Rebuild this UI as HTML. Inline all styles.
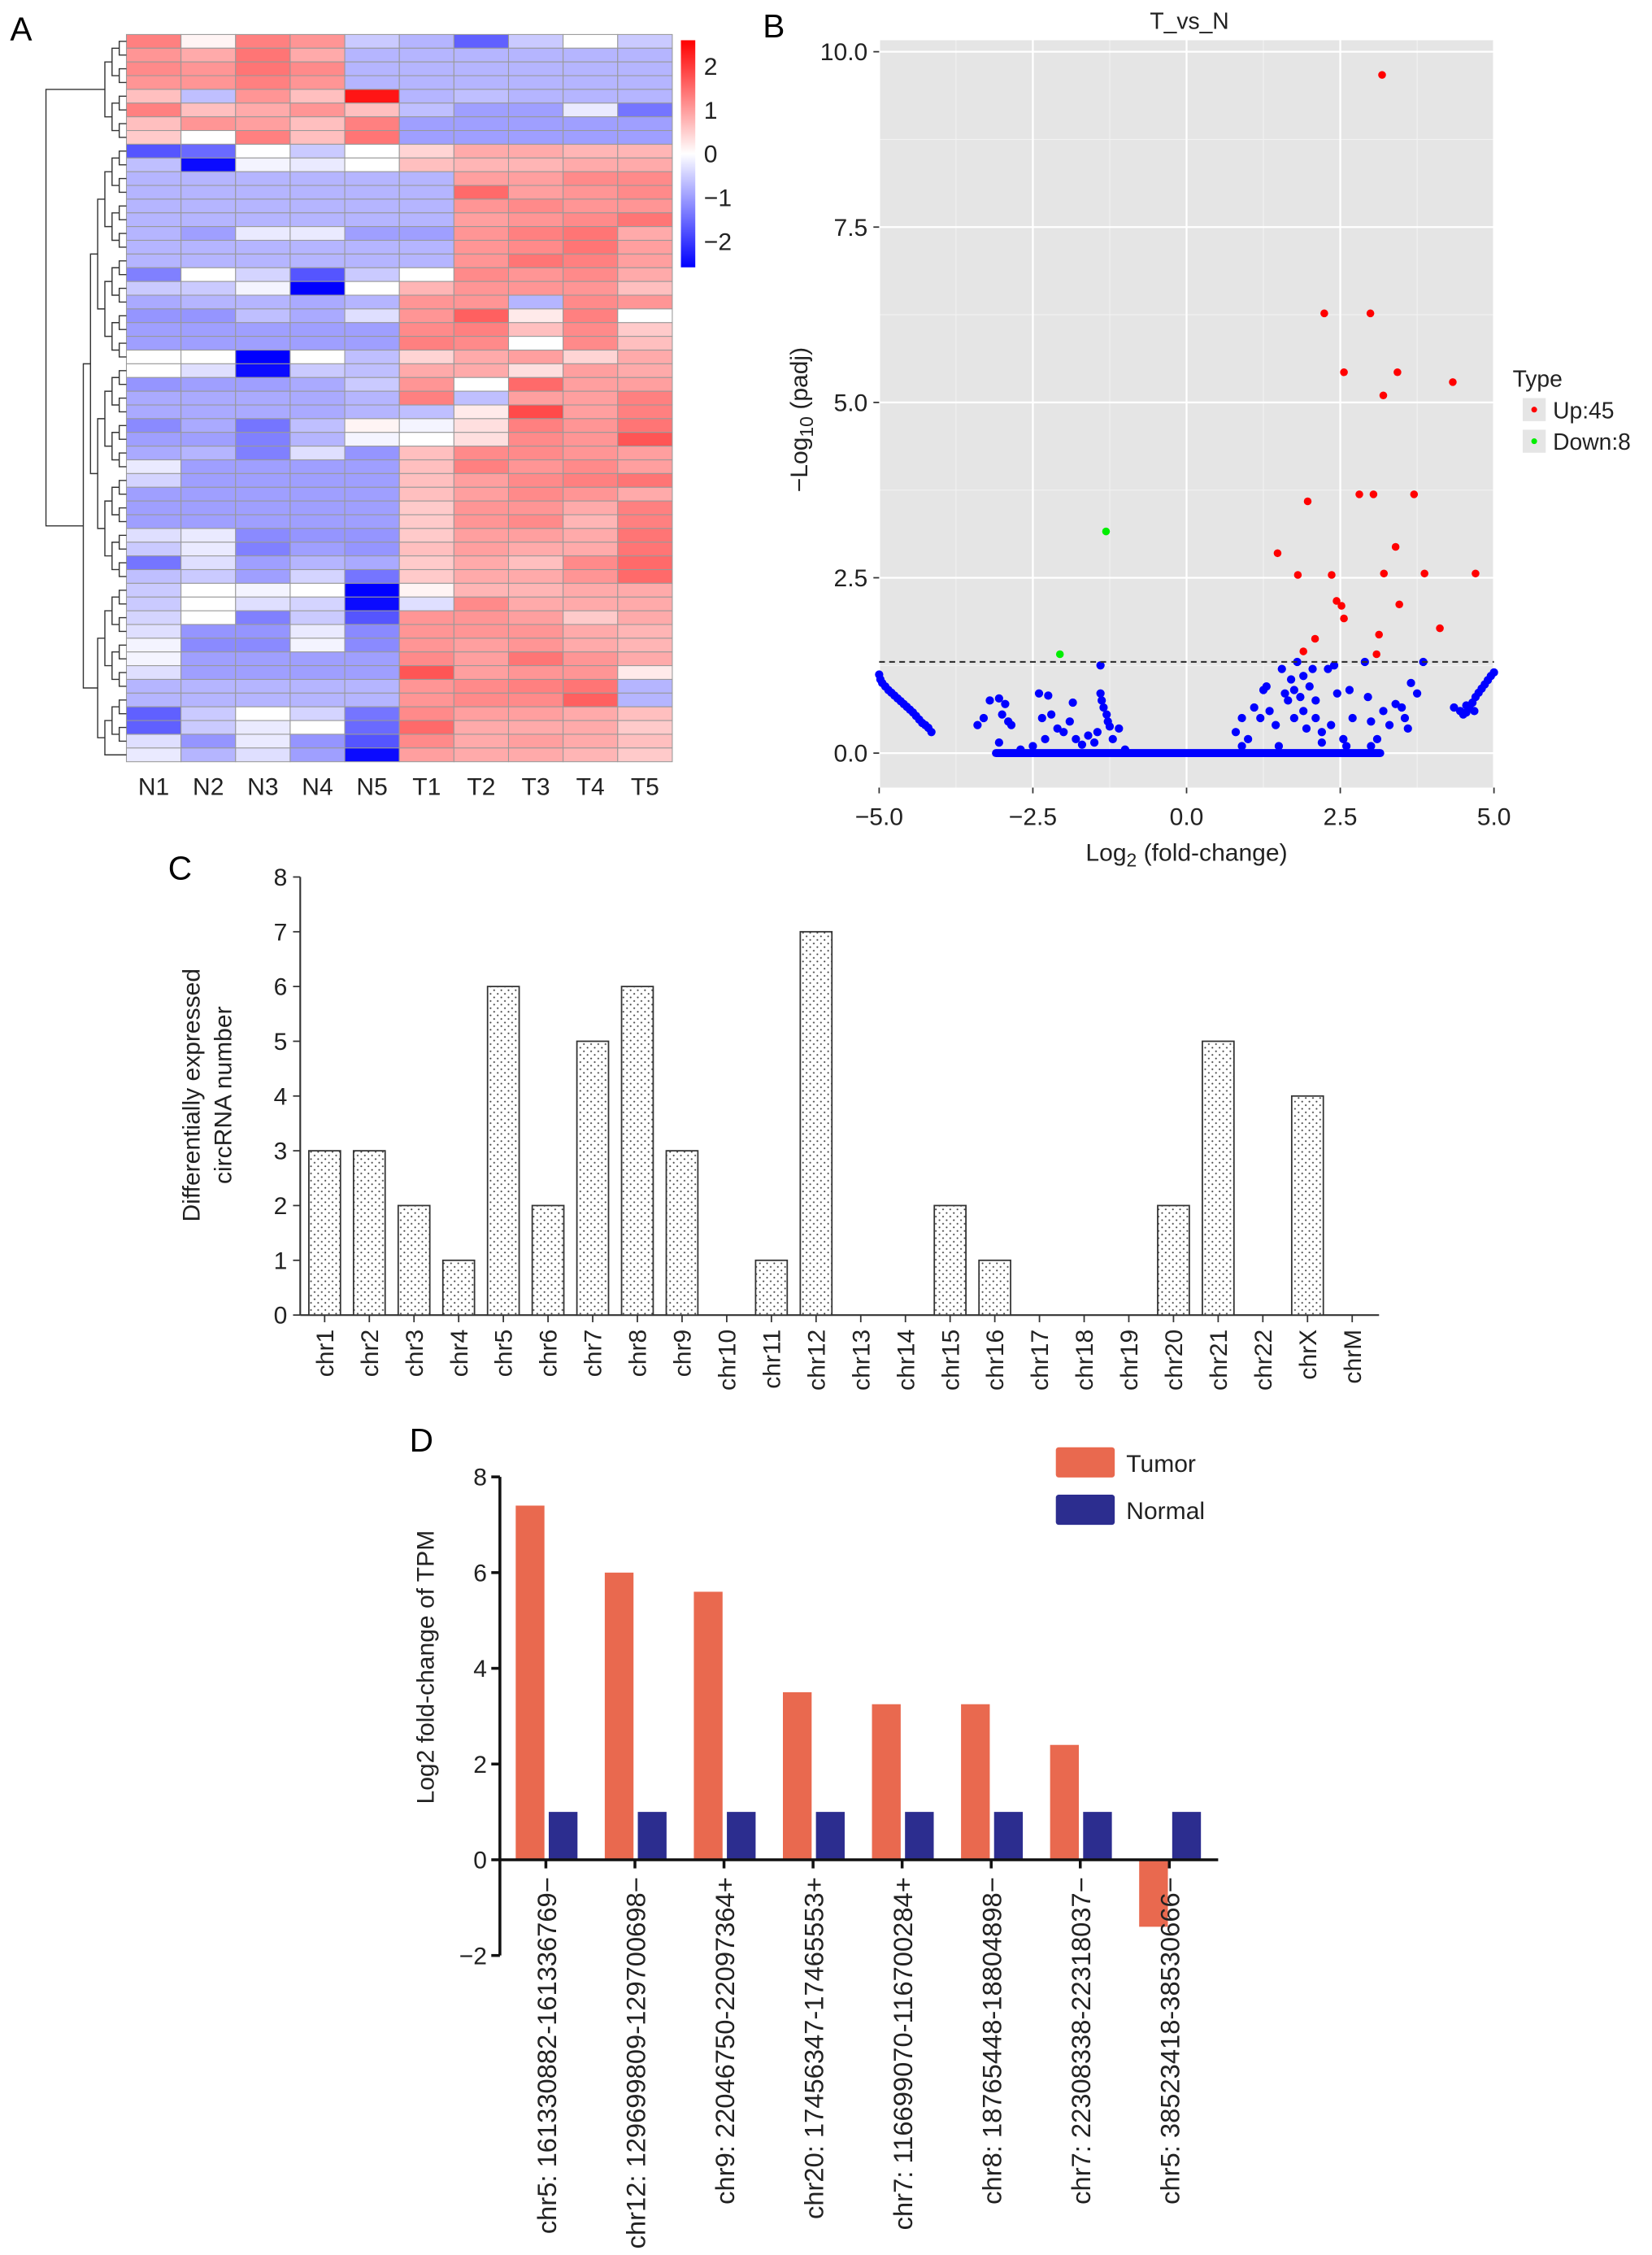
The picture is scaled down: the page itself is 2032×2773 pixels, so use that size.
<!DOCTYPE html>
<html><head><meta charset="utf-8"><style>
html,body{margin:0;padding:0;background:#fff;}
svg{display:block;font-family:"Liberation Sans",Arial,sans-serif;}
</style></head><body>
<svg id="fig" width="2032" height="2773" viewBox="0 0 1150 1569" preserveAspectRatio="none" xmlns="http://www.w3.org/2000/svg">
<defs>
<pattern id="dots" width="5" height="5" patternUnits="userSpaceOnUse"><rect width="5" height="5" fill="#fff"/><circle cx="1.5" cy="1.5" r="0.6" fill="#444"/><circle cx="4" cy="4" r="0.6" fill="#444"/></pattern>
<linearGradient id="cbar" x1="0" y1="0" x2="0" y2="1"><stop offset="0" stop-color="#ff0000"/><stop offset="0.5" stop-color="#ffffff"/><stop offset="1" stop-color="#0000ff"/></linearGradient>
</defs>
<g id="pA"></g>
<g id="pB"></g>
<g id="pC"></g>
<g id="pD"></g>
</svg>
<script>
// ---------- Panel A data ----------
const heatCols = ["N1","N2","N3","N4","N5","T1","T2","T3","T4","T5"];
const heatRows = [
[1.2,0.1,1.2,1.0,-0.5,-0.7,-1.5,-0.5,0.0,-0.5],
[1.0,0.8,1.3,0.8,-0.7,-0.7,-0.7,-0.7,-0.7,-0.7],
[1.1,1.0,1.3,1.1,-0.7,-0.7,-0.7,-0.7,-0.7,-0.7],
[1.0,1.0,1.2,1.0,-0.7,-0.7,-0.7,-0.7,-0.7,-0.7],
[0.6,-0.6,1.0,0.6,2.2,-0.7,-0.6,-0.7,-0.7,-0.7],
[1.2,0.6,0.8,1.0,0.6,-0.6,-0.9,-0.9,-0.2,-1.3],
[0.6,1.0,0.9,0.6,1.2,-0.9,-0.9,-0.9,-0.9,-0.9],
[0.5,0.0,1.2,0.6,1.3,-0.9,-0.9,-0.9,-0.9,-0.9],
[-1.6,-1.4,0.0,-0.5,0.0,0.4,0.8,0.8,0.7,0.7],
[-0.6,-2.3,-0.1,-0.2,0.0,0.6,0.7,0.7,0.8,0.8],
[-0.7,-0.7,-0.7,-0.7,-0.7,-0.7,0.9,0.9,1.1,1.1],
[-0.7,-0.7,-0.7,-0.7,-0.7,-0.7,1.4,0.9,1.0,1.1],
[-0.7,-0.7,-0.7,-0.7,-0.7,-0.7,1.0,1.1,1.0,1.0],
[-0.7,-0.7,-0.7,-0.7,-0.7,-0.7,0.9,1.0,1.1,1.3],
[-0.7,-0.9,-0.2,-0.2,-0.9,-0.9,1.0,1.2,1.3,0.8],
[-0.7,-0.7,-0.7,-0.7,-0.7,-0.7,1.0,1.1,1.3,0.9],
[-0.7,-0.7,-0.7,-0.7,-0.7,-0.7,1.0,1.3,1.2,0.9],
[-1.2,0.0,-0.4,-1.6,-0.5,0.0,1.1,1.0,1.1,0.8],
[-0.5,-0.5,-0.1,-2.4,0.0,0.7,1.0,1.0,1.0,0.6],
[-0.8,-0.7,-0.7,-0.8,-0.7,1.0,1.0,-0.7,1.1,1.0],
[-1.0,-1.0,-0.6,-0.8,-0.3,1.0,1.5,0.2,1.2,0.0],
[-0.9,-0.9,-0.9,-0.9,-0.9,1.1,1.2,0.6,1.1,0.5],
[-0.9,-0.9,-0.9,-0.9,-0.9,1.2,1.1,0.0,1.1,0.6],
[0.0,0.0,-2.5,0.0,-0.6,0.4,0.8,0.9,0.4,0.8],
[0.0,-0.3,-2.3,-0.5,-0.6,0.8,0.8,0.3,0.9,0.8],
[-1.0,-0.9,-0.9,-0.8,-0.5,1.0,0.0,1.4,0.9,0.9],
[-0.8,-0.8,-0.8,-0.8,-0.7,1.2,-0.6,0.9,0.9,1.2],
[-0.8,-0.8,-0.8,-0.8,-0.7,-0.6,0.2,1.7,0.9,1.2],
[-1.1,-0.8,-1.3,-0.6,0.1,-0.1,0.3,1.2,1.0,1.3],
[-0.9,-0.9,-1.2,-0.7,-0.1,0.0,0.3,1.1,1.0,1.6],
[-0.8,-0.7,-1.2,-0.3,-1.0,0.6,1.1,1.1,1.0,0.9],
[-0.2,-0.9,-0.9,-0.9,-0.9,0.6,1.2,1.0,1.1,0.9],
[-0.4,-0.9,-0.9,-0.9,-0.9,0.6,0.9,1.1,1.2,1.3],
[-0.9,-0.9,-0.9,-0.9,-0.9,0.6,0.9,1.1,1.0,0.8],
[-0.9,-0.9,-0.9,-0.9,-0.9,0.5,1.0,1.0,0.8,1.2],
[-0.9,-0.9,-0.9,-0.9,-0.9,0.5,1.0,1.1,0.7,1.2],
[-0.3,-0.2,-1.1,-1.0,-1.0,0.5,0.9,0.9,0.8,1.3],
[-0.5,-0.2,-1.2,-0.9,-1.0,0.6,0.9,0.8,0.8,1.3],
[-1.3,-0.3,-0.9,-0.7,-0.8,0.5,0.8,0.6,1.1,1.4],
[-0.6,-0.5,-0.9,-0.4,-1.3,0.5,0.8,0.8,1.0,1.4],
[-0.5,0.0,-0.1,0.0,-2.5,0.1,0.7,0.7,0.8,0.8],
[-0.5,0.0,-0.3,-0.4,-2.3,-0.3,1.1,0.8,0.8,0.8],
[-0.4,0.0,-1.2,-0.5,-1.6,1.0,1.0,0.9,0.5,0.8],
[-0.3,-1.0,-1.0,-0.2,-1.1,1.0,1.0,1.0,0.8,0.7],
[-0.1,-1.1,-1.1,-0.1,-1.1,1.0,0.9,1.0,0.8,0.7],
[-0.1,-0.9,-0.9,-0.9,-0.9,1.1,0.9,1.3,1.0,0.8],
[-0.3,-0.9,-0.9,-0.9,-0.9,1.6,0.9,1.0,1.0,0.2],
[-0.7,-0.7,-0.7,-0.7,-0.7,1.0,1.1,1.2,1.3,-0.7],
[-0.7,-0.7,-0.7,-0.7,-0.7,1.0,1.1,1.1,1.5,-0.7],
[-1.5,-0.5,0.0,-0.4,-1.3,1.1,0.9,0.9,0.8,0.6],
[-1.5,-0.5,-0.2,0.0,-1.4,1.4,0.8,0.8,0.8,0.5],
[-0.3,-1.0,-0.2,-1.0,-1.6,1.1,0.8,0.9,0.8,0.6],
[-0.2,-0.7,-0.3,-0.9,-2.3,0.9,0.8,0.8,0.7,0.5]
];
const cbarTicks = [2,1,0,-1,-2];

// ---------- Panel B data ----------
const volXTicks = [-5,-2.5,0,2.5,5];
const volXTickLabels = ["\u22125.0","\u22122.5","0.0","2.5","5.0"];
const volYTicks = [0,2.5,5,7.5,10];
const volYTickLabels = ["0.0","2.5","5.0","7.5","10.0"];
const volThreshold = 1.3;
const upX = [3.18,2.24,2.99,2.56,3.43,4.33,3.2,1.97,2.81,3.04,3.7,3.4,1.48,1.81,2.36,3.21,3.87,4.7,2.44,2.52,2.56,3.46,4.12,2.09,3.13,1.9,3.09];
const upY = [9.67,6.27,6.27,5.43,5.43,5.29,5.1,3.59,3.69,3.69,3.69,2.94,2.85,2.54,2.54,2.56,2.56,2.56,2.17,2.1,1.92,2.12,1.78,1.63,1.69,1.45,1.41];
const downX = [-1.31,-2.06];
const downY = [3.16,1.41];
const nsX = [-5,-4.98,-4.95,-4.9,-4.85,-4.8,-4.75,-4.7,-4.65,-4.6,-4.55,-4.5,-4.45,-4.4,-4.35,-4.3,-4.25,-4.2,-4.15,
4.35,4.45,4.5,4.55,4.6,4.65,4.7,4.75,4.8,4.85,4.9,4.95,5,4.55,4.68,
-3.4,-3.3,-3.2,-3.05,-2.95,-3.0,-2.9,-2.85,-3.05,-2.4,-2.25,-2.35,-2.2,-2.3,-2.1,-1.85,-1.9,-2.0,-1.8,-1.6,-1.45,-1.4,-1.38,-1.35,-1.3,-1.28,-1.25,-1.4,-1.2,-1.1,-1.5,-1.7,-2.5,-2.7,-1.0,
0.8,0.9,1.0,1.1,1.2,1.25,1.3,1.35,1.45,1.55,1.6,1.65,1.7,1.75,1.75,1.8,1.85,1.9,1.9,1.95,2.0,2.05,2.1,2.1,2.2,2.3,2.35,2.4,2.45,2.55,2.65,2.7,2.9,2.95,3.0,3.1,3.2,3.3,3.4,3.5,3.55,3.6,3.65,3.75,3.85,2.6,1.5,2.2,3.0,0.9];
const nsY = [1.12,1.05,1.0,0.95,0.9,0.86,0.82,0.78,0.74,0.7,0.66,0.62,0.58,0.53,0.48,0.43,0.4,0.36,0.3,
0.65,0.6,0.55,0.58,0.65,0.72,0.8,0.86,0.92,0.98,1.04,1.1,1.15,0.68,0.6,
0.4,0.5,0.75,0.78,0.7,0.55,0.45,0.4,0.15,0.85,0.82,0.5,0.55,0.2,0.35,0.72,0.45,0.3,0.2,0.25,0.3,0.85,0.75,0.65,0.55,0.45,0.38,1.25,0.2,0.35,0.15,0.12,0.1,0.05,0.05,
0.3,0.5,0.2,0.65,0.5,0.9,0.95,0.6,0.4,1.2,0.85,0.75,1.05,0.9,0.5,1.3,0.8,1.1,0.6,0.35,0.95,1.2,0.5,0.75,0.3,1.2,0.4,1.25,0.85,0.2,0.9,0.5,1.3,0.8,0.45,0.2,0.6,0.4,0.7,0.65,0.5,0.35,1.0,0.85,1.3,0.1,0.1,0.15,0.1,0.1];
const nsZeroBand = [-3.1,3.15];

// ---------- Panel C data ----------
const chrCats = ["chr1","chr2","chr3","chr4","chr5","chr6","chr7","chr8","chr9","chr10","chr11","chr12","chr13","chr14","chr15","chr16","chr17","chr18","chr19","chr20","chr21","chr22","chrX","chrM"];
const chrCounts = [3,3,2,1,6,2,5,6,3,0,1,7,0,0,2,1,0,0,0,2,5,0,4,0];
const chrYTicks = [0,1,2,3,4,5,6,7,8];

// ---------- Panel D data ----------
const circCats = ["chr5: 161330882-161336769\u2212","chr12: 129699809-129700698\u2212","chr9: 22046750-22097364+","chr20: 17456347-17465553+","chr7: 116699070-116700284+","chr8: 18765448-18804898\u2212","chr7: 22308338-22318037\u2212","chr5: 38523418-38530666\u2212"];
const tumorVals = [7.4,6.0,5.6,3.5,3.25,3.25,2.4,-1.4];
const normalVals = [1.0,1.0,1.0,1.0,1.0,1.0,1.0,1.0];
const circYTicks = [-2,0,2,4,6,8];
const circYTickLabels = ["\u22122","0","2","4","6","8"];

// ---------- helpers ----------
const NS="http://www.w3.org/2000/svg";
function mk(parent,tag,attrs,text){const e=document.createElementNS(NS,tag);for(const k in attrs)e.setAttribute(k,attrs[k]);if(text!==undefined)e.textContent=text;parent.appendChild(e);return e;}
function heatColor(v){v=Math.max(-2.4,Math.min(2.4,v));const t=Math.abs(v)/2.4;const c=Math.round(255*(1-t));return v>=0?`rgb(255,${c},${c})`:`rgb(${c},${c},255)`;}

// ---------- Panel A ----------
(function(){
const g=document.getElementById('pA');
let t=mk(g,'text',{x:7,y:28,'font-size':23});
t.textContent='A';
const x0=88,x1=468,y0=24,y1=530;
const cw=(x1-x0)/heatCols.length, rh=(y1-y0)/heatRows.length;
heatRows.forEach((row,r)=>row.forEach((v,c)=>{
  const cell=mk(g,'rect',{x:x0+c*cw,y:y0+r*rh,width:cw,height:rh,fill:heatColor(v),stroke:'#999','stroke-width':0.6});
  
  
}));
heatCols.forEach((l,c)=>{
  const e=mk(g,'text',{x:x0+c*cw+cw/2,y:553,'font-size':17,'text-anchor':'middle',fill:'#222'},l);
  
  
});
let nodes=heatRows.map((_,i)=>({y:y0+i*rh+rh/2,x:x0}));
function merge(list,depth){
  if(list.length===1)return list[0];
  const out=[];
  for(let i=0;i<list.length;i+=2){
    if(i+1<list.length){
      const a=list[i],b=list[i+1];const nx=Math.min(a.x,b.x)-5;
      mk(g,'path',{d:`M${a.x},${a.y}H${nx}V${b.y}H${b.x}`,fill:'none',stroke:'#333','stroke-width':0.8});
      out.push({x:nx,y:(a.y+b.y)/2});
    } else out.push(list[i]);
  }
  return merge(out,depth+1);
}
const top=merge(nodes.slice(0,8),0), bot=merge(nodes.slice(8),0);
mk(g,'path',{d:`M${top.x},${top.y}H32V${bot.y}H${bot.x}`,fill:'none',stroke:'#333','stroke-width':0.8});
const cb=mk(g,'rect',{x:474,y:28,width:10,height:158,fill:'url(#cbar)'});

cbarTicks.forEach(v=>{const y=107-v*30.5;
  const e=mk(g,'text',{x:490,y:y+6,'font-size':17,fill:'#222'},v<0?'\u2212'+(-v):String(v));
  });
})();

// ---------- Panel B ----------
(function(){
const g=document.getElementById('pB');
let t=mk(g,'text',{x:531,y:26,'font-size':23},'B');
const px0=612,px1=1040,py0=28,py1=548;
const sx=v=>px0+(v+5)/10*(px1-px0);
const sy=v=>524-v*48.8;
const bg=mk(g,'rect',{x:px0,y:py0,width:px1-px0,height:py1-py0,fill:'#e5e5e5'});

volXTicks.forEach((v,i)=>{ if(i<volXTicks.length-1) mk(g,'line',{x1:sx(v+1.25),x2:sx(v+1.25),y1:py0,y2:py1,stroke:'#f2f2f2','stroke-width':0.6});});
volYTicks.forEach((v,i)=>{ if(i<volYTicks.length-1) mk(g,'line',{x1:px0,x2:px1,y1:sy(v+1.25),y2:sy(v+1.25),stroke:'#f2f2f2','stroke-width':0.6});});
volXTicks.forEach((v,i)=>{mk(g,'line',{x1:sx(v),x2:sx(v),y1:py0,y2:py1,stroke:'#fff','stroke-width':1.3});
  mk(g,'line',{x1:sx(v),x2:sx(v),y1:py1,y2:py1+4,stroke:'#333'});
  const e=mk(g,'text',{x:sx(v),y:574,'font-size':17,'text-anchor':'middle',fill:'#222'},volXTickLabels[i]);
  });
volYTicks.forEach((v,i)=>{mk(g,'line',{x1:px0,x2:px1,y1:sy(v),y2:sy(v),stroke:'#fff','stroke-width':1.3});
  mk(g,'line',{x1:px0-4,x2:px0,y1:sy(v),y2:sy(v),stroke:'#333'});
  const e=mk(g,'text',{x:px0-8,y:sy(v)+6,'font-size':17,'text-anchor':'end',fill:'#222'},volYTickLabels[i]);
  });
const band=mk(g,'rect',{x:sx(nsZeroBand[0])-2.8,y:sy(0)-2.8,width:sx(nsZeroBand[1])-sx(nsZeroBand[0])+5.6,height:5.6,rx:2.8,fill:'#0000ff'});

nsX.forEach((x,i)=>{const c=mk(g,'circle',{cx:sx(x),cy:sy(nsY[i]),r:2.9,fill:'#0000ff'});
  });
upX.forEach((x,i)=>{const c=mk(g,'circle',{cx:sx(x),cy:sy(upY[i]),r:2.7,fill:'#ff0000'});
  });
downX.forEach((x,i)=>{const c=mk(g,'circle',{cx:sx(x),cy:sy(downY[i]),r:2.7,fill:'#00ee00'});
  });
const th=mk(g,'line',{x1:px0,x2:px1,y1:sy(volThreshold),y2:sy(volThreshold),stroke:'#333','stroke-width':1.2,'stroke-dasharray':'4,3'});

let e=mk(g,'text',{x:828,y:20,'font-size':16,'text-anchor':'middle',fill:'#222'},'T_vs_N');
e=mk(g,'text',{x:826,y:599,'font-size':17,'text-anchor':'middle',fill:'#222'});
e.innerHTML='Log<tspan font-size="13" dy="4">2</tspan><tspan dy="-4"> (fold-change)</tspan>';
e=mk(g,'text',{transform:'translate(562,292) rotate(-90)','font-size':17,'text-anchor':'middle',fill:'#222'});
e.innerHTML='\u2212Log<tspan font-size="13" dy="4">10</tspan><tspan dy="-4"> (padj)</tspan>';
e=mk(g,'text',{x:1053,y:269,'font-size':16,fill:'#222'},'Type');
mk(g,'rect',{x:1060,y:277,width:16,height:16,fill:'#e5e5e5'});mk(g,'rect',{x:1060,y:299,width:16,height:16,fill:'#e5e5e5'});
mk(g,'circle',{cx:1068,cy:285,r:2,fill:'#ff0000'});mk(g,'circle',{cx:1068,cy:307,r:2,fill:'#00ee00'});
e=mk(g,'text',{x:1081,y:291,'font-size':16,fill:'#222'},'Up:45');
e=mk(g,'text',{x:1081,y:313,'font-size':16,fill:'#222'},'Down:8');
})();

// ---------- Panel C ----------
(function(){
const g=document.getElementById('pC');
let t=mk(g,'text',{x:117,y:612,'font-size':23},'C');
const ax=209, y0=915, unit=38.1;
const sy=v=>y0-v*unit, sx=i=>226+i*31.1;
mk(g,'line',{x1:ax,x2:ax,y1:sy(8),y2:y0,stroke:'#333','stroke-width':1.2});
mk(g,'line',{x1:ax,x2:960,y1:y0,y2:y0,stroke:'#333','stroke-width':1.2});
chrYTicks.forEach(v=>{mk(g,'line',{x1:ax-5,x2:ax,y1:sy(v),y2:sy(v),stroke:'#333'});
  const e=mk(g,'text',{x:ax-9,y:sy(v)+6,'font-size':17,'text-anchor':'end',fill:'#222'},String(v));
  });
chrCats.forEach((c,i)=>{
  if(chrCounts[i]>0){const b=mk(g,'rect',{x:sx(i)-11,y:sy(chrCounts[i]),width:22,height:chrCounts[i]*unit,fill:'url(#dots)',stroke:'#333','stroke-width':1});
    }
  mk(g,'line',{x1:sx(i),x2:sx(i),y1:y0,y2:y0+5,stroke:'#333'});
  const e=mk(g,'text',{transform:`translate(${sx(i)+6},${y0+10}) rotate(-90)`,'font-size':17,'text-anchor':'end',fill:'#222'},c);
  
});
let e=mk(g,'text',{transform:'translate(139,762) rotate(-90)','font-size':17,'text-anchor':'middle',fill:'#222'},'Differentially expressed');

e=mk(g,'text',{transform:'translate(161,762) rotate(-90)','font-size':17,'text-anchor':'middle',fill:'#222'},'circRNA number');

})();

// ---------- Panel D ----------
(function(){
const g=document.getElementById('pD');
let t=mk(g,'text',{x:285,y:1010,'font-size':23},'D');
const ax=348, zero=1294, unit=33.3;
const sy=v=>zero-v*unit, cx=i=>380+i*62;
mk(g,'line',{x1:ax,x2:ax,y1:sy(8),y2:sy(-2),stroke:'#111','stroke-width':2});
circYTicks.forEach((v,i)=>{mk(g,'line',{x1:ax-6,x2:ax,y1:sy(v),y2:sy(v),stroke:'#111','stroke-width':2});
  const e=mk(g,'text',{x:ax-9,y:sy(v)+6,'font-size':17,'text-anchor':'end',fill:'#222'},circYTickLabels[i]);
  });
circCats.forEach((c,i)=>{
  const tv=tumorVals[i],nv=normalVals[i];
  const b=mk(g,'rect',{x:cx(i)-21,y:Math.min(sy(tv),zero),width:20,height:Math.abs(tv)*unit,fill:'#e9694f'});
  
  const n=mk(g,'rect',{x:cx(i)+2,y:Math.min(sy(nv),zero),width:20,height:Math.abs(nv)*unit,fill:'#2c2d8f'});
  
  mk(g,'line',{x1:cx(i),x2:cx(i),y1:zero,y2:zero+6,stroke:'#111','stroke-width':2});
  const e=mk(g,'text',{transform:`translate(${cx(i)+7},${zero+12}) rotate(-90)`,'font-size':18.5,'text-anchor':'end',fill:'#222'},c);
  
});
mk(g,'line',{x1:ax,x2:848,y1:zero,y2:zero,stroke:'#111','stroke-width':2});
let e=mk(g,'text',{transform:'translate(302,1160) rotate(-90)','font-size':17,'text-anchor':'middle',fill:'#222'},'Log2 fold-change of TPM');

let s=mk(g,'rect',{x:735,y:1007,width:41,height:21,rx:2,fill:'#e9694f'});
s=mk(g,'rect',{x:735,y:1040,width:41,height:21,rx:2,fill:'#2c2d8f'});
e=mk(g,'text',{x:784,y:1024,'font-size':17,fill:'#222'},'Tumor');
e=mk(g,'text',{x:784,y:1057,'font-size':17,fill:'#222'},'Normal');
})();
</script>
</body></html>
